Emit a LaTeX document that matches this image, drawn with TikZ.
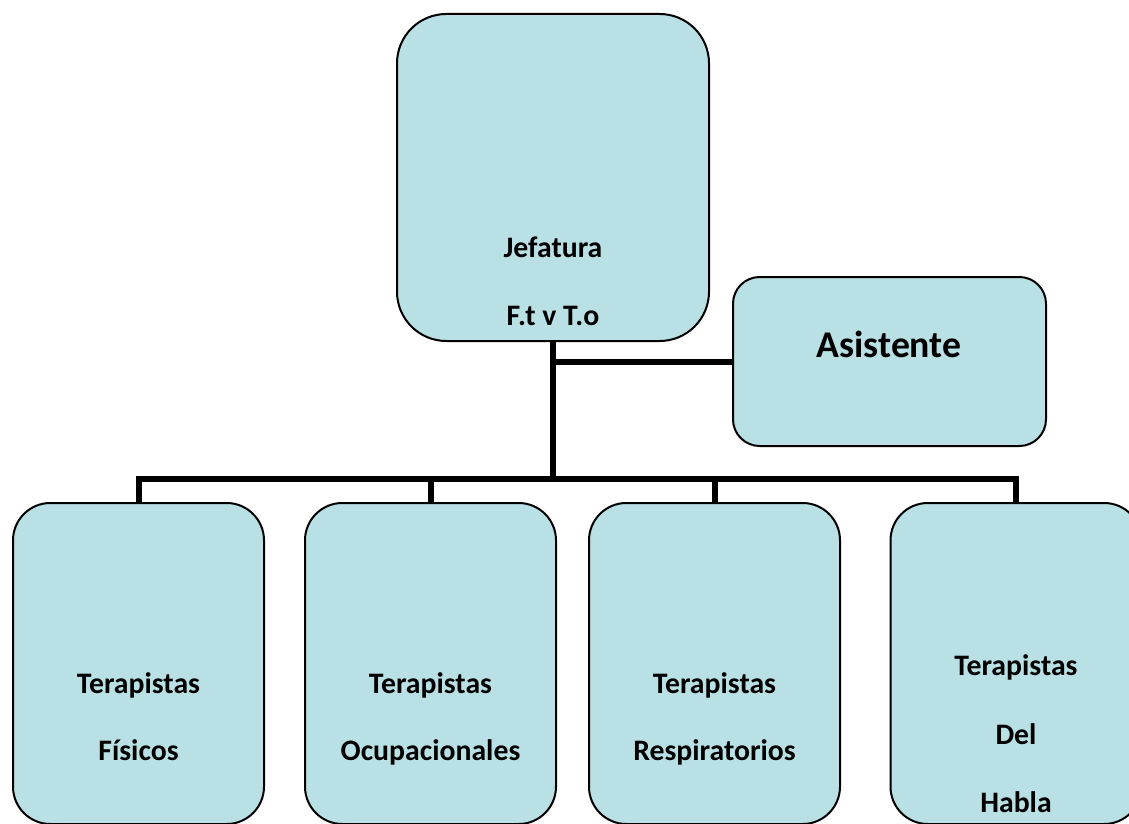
\documentclass[tikz,border=0pt]{standalone}
\usepackage{fontspec}
\setmainfont{Carlito}
\definecolor{boxfill}{RGB}{185,224,228}
\begin{document}
\begin{tikzpicture}[x=0.75pt,y=-0.75pt,
  box/.style={draw=black, line width=1.5pt, fill=boxfill, rectangle, inner sep=0pt},
  conn/.style={draw=black, line width=4.5pt, line join=miter},
  lbl/.style={anchor=base, inner sep=0pt, font=\fontsize{22.3}{27}\selectfont\bfseries},
  biglbl/.style={anchor=base, inner sep=0pt, font=\fontsize{28.3}{34}\selectfont\bfseries}]
\useasboundingbox (0,0) rectangle (1129,824);
\fill[white] (0,0) rectangle (1129,824);
% boxes
\node[box, rounded corners=37pt, minimum width=234pt, minimum height=245.25pt] (jef) at (553,177.5) {};
\node[box, rounded corners=20pt, minimum width=234.75pt, minimum height=126.75pt] (asi) at (889.5,361.5) {};
\node[box, rounded corners=28pt, minimum width=188.25pt, minimum height=240.75pt] (t1) at (138.5,663.5) {};
\node[box, rounded corners=28pt, minimum width=188.25pt, minimum height=240.75pt] (t2) at (430.5,663.5) {};
\node[box, rounded corners=28pt, minimum width=188.25pt, minimum height=240.75pt] (t3) at (714.5,663.5) {};
\node[box, rounded corners=28pt, minimum width=188.25pt, minimum height=240.75pt] (t4) at (1016,663.5) {};
% connectors
\coordinate (bus) at (553,479);
\draw[conn] (jef.south) -- (bus);
\draw[conn] (asi.west) -- (asi.west -| jef.south);
\draw[conn] (t1.north) -- (t1.north |- bus) -- (t4.north |- bus) -- (t4.north);
\draw[conn] (t2.north) -- (t2.north |- bus);
\draw[conn] (t3.north) -- (t3.north |- bus);
% labels
\node[lbl] (jefa) at (553,257) {Jefatura};
\node[lbl] (jefb) at (553,325) {F.t v T.o};
\node[biglbl] (asia) at (889,357) {Asistente};
\node[lbl] (t1a) at (138.5,693) {Terapistas};
\node[lbl] (t1b) at (138.5,760) {Físicos};
\node[lbl] (t2a) at (430.5,693) {Terapistas};
\node[lbl] (t2b) at (430.5,760) {Ocupacionales};
\node[lbl] (t3a) at (714.5,693) {Terapistas};
\node[lbl] (t3b) at (714.5,760) {Respiratorios};
\node[lbl] (t4a) at (1016,675) {Terapistas};
\node[lbl] (t4b) at (1016,744) {Del};
\node[lbl] (t4c) at (1016,812) {Habla};
\end{tikzpicture}
\end{document}
